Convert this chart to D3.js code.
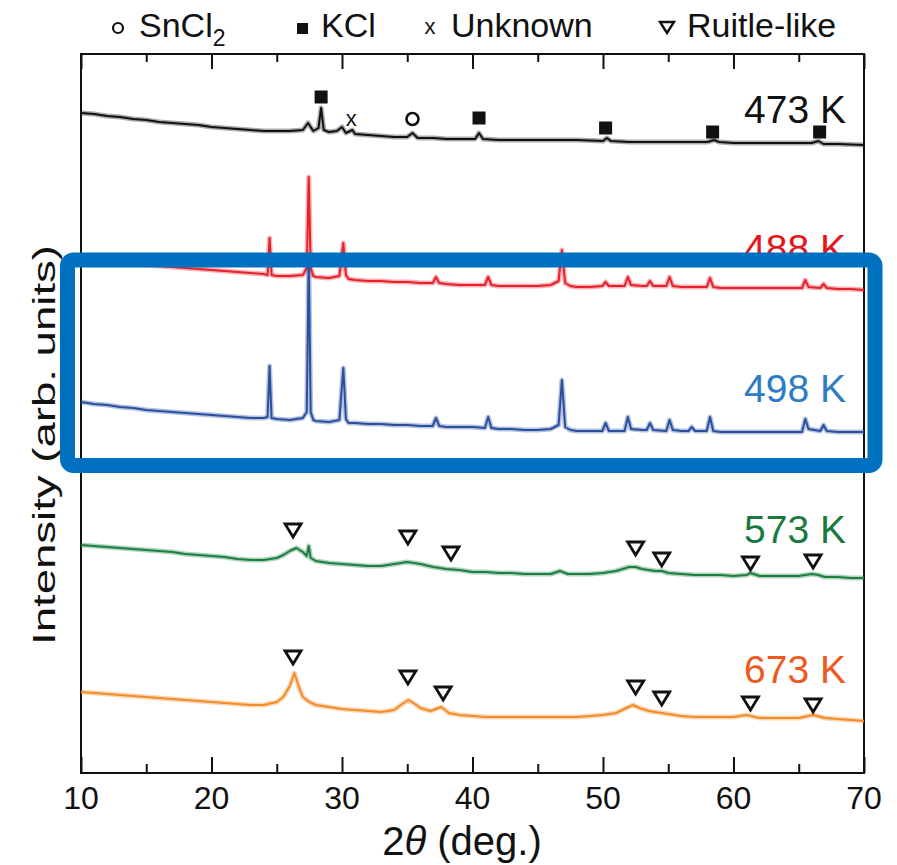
<!DOCTYPE html>
<html><head><meta charset="utf-8">
<script src="https://cdn.jsdelivr.net/npm/d3@7"></script>
<style>
html,body{margin:0;padding:0;background:#fff;}
text{font-family:"Liberation Sans",Arial,Helvetica,sans-serif;}
</style></head>
<body>
<svg id="chart" width="897" height="865"></svg>
<script>
// ---------- data (2θ in deg., intensity in arb. units incl. vertical offset) ----------
const xTicksMajor = [10, 20, 30, 40, 50, 60, 70];
const xTicksMinor = [15, 25, 35, 45, 55, 65];
const seriesNames = ["473 K", "488 K", "498 K", "573 K", "673 K"];

const s473 = [[10,660],[11,659],[12,657],[13,656],[14,654],[15,653],[16,651],[17,650],[18,649],[19,648],[20,646],[21,645],[22,644],[23,643],[24,642],[25,642],[26,642],[27,643],[27.4,650],[27.8,642],[28.2,645],[28.4,665],[28.6,643],[29,641],[29.6,642],[30.0,646],[30.3,640],[30.8,643],[31,639],[32,638],[33,637],[34,636],[35,636],[35.4,640],[35.8,635],[37,635],[38,634],[39,634],[40.2,634],[40.5,640],[40.8,634],[42,633],[44,633],[46,633],[48,633],[50,632],[50.3,635],[50.6,632],[52,631],[54,631],[56,631],[58,631],[58.5,633],[58.9,631],[60,630],[62,630],[64,630],[66,630],[66.5,632],[66.9,629],[68,629],[70,628]];

const s488 = [[10,513],[11,512],[12,511],[13,510],[14,509],[15,508],[16,507],[17,506],[18,505],[19,504],[20,503],[21,502],[22,501],[23,500],[24,499],[24.3,498],[24.45,535],[24.6,498],[25,497],[26,497],[27,498],[27.3,505],[27.45,596],[27.6,505],[27.8,497],[28,496],[29,495],[29.8,497],[30.1,530],[30.3,498],[30.5,494],[31,493],[32,492],[33,492],[34,491],[35,491],[36,490],[36.95,490],[37.2,496],[37.45,490],[38,489],[39,488],[40,488],[40.95,488],[41.2,496],[41.45,488],[42,487],[43,487],[44,487],[45,487],[46,488],[46.6,492],[46.85,523],[47.1,490],[47.5,487],[48,486],[49,486],[49.95,487],[50.2,491],[50.45,487],[51,487],[51.65,487],[51.9,496],[52.15,488],[53,487],[53.35,487],[53.6,492],[53.85,487],[54.85,487],[55.1,496],[55.35,487],[56,486],[57,486],[57.95,486],[58.2,495],[58.45,486],[59,485],[60,485],[62,485],[64,485],[65.25,485],[65.5,493],[65.75,486],[66.65,485],[66.9,489],[67.15,485],[68,484],[69,484],[70,483]];

const s498 = [[10,371],[11,369],[12,368],[13,366],[14,365],[15,363],[16,362],[17,361],[18,360],[19,359],[20,358],[21,357],[22,356],[23,355],[24,355],[24.3,356],[24.45,407],[24.6,355],[25,354],[26,353],[27,355],[27.3,361],[27.45,518],[27.6,361],[27.8,353],[28,352],[29,351],[29.8,353],[30.1,405],[30.3,354],[30.5,350],[31,350],[32,349],[33,349],[34,348],[35,348],[36,347],[36.95,347],[37.2,355],[37.45,347],[38,346],[39,346],[40,346],[40.95,345],[41.2,356],[41.45,345],[42,344],[43,344],[44,343],[45,343],[46,344],[46.6,348],[46.85,393],[47.1,346],[47.5,343],[48,342],[49,342],[49.95,342],[50.2,350],[50.45,342],[51,342],[51.65,342],[51.9,356],[52.15,344],[53,343],[53.35,343],[53.6,350],[53.85,343],[54.85,342],[55.1,353],[55.35,343],[56,342],[56.55,342],[56.8,346],[57.05,342],[57.95,342],[58.2,356],[58.45,342],[59,341],[60,341],[62,341],[64,341],[65.25,341],[65.5,354],[65.75,344],[66.65,342],[66.9,348],[67.15,342],[68,341],[69,341],[70,341]];

const s573 = [[10,228],[11,227],[12,226],[13,225],[14,224],[15,223],[16,222],[17,221],[18,219],[19,218],[20,217],[21,216],[22,214],[23,213],[24,213],[25,215],[25.5,218],[26,222],[26.5,225],[27,221],[27.3,217],[27.45,227],[27.6,215],[28,212],[29,210],[30,209],[31,208],[32,207],[33,207],[34,209],[35,211],[36,209],[37,206],[38,204],[39,203],[40,201],[41,201],[42,200],[43,200],[44,199],[45,199],[46,199],[46.7,202],[47.3,199],[48,199],[49,199],[50,200],[51,202],[52,206],[52.5,206],[53,204],[54,202],[54.5,202],[55,200],[56,199],[57,198],[58,198],[59,198],[60,197],[61,198],[61.3,200],[62,197],[63,197],[64,197],[65,197],[66,199],[66.5,198],[67,196],[68,196],[69,195],[70,195]];

const s673 = [[10,81],[11,80],[12,79],[13,78],[14,77],[15,76],[16,75],[17,74],[18,73],[19,72],[20,71],[21,70],[22,69],[23,68],[24,68],[25,71],[25.5,76],[26,87],[26.35,100],[26.7,86],[27,76],[27.5,71],[28,68],[29,66],[30,64],[31,63],[32,62],[33,61],[34,63],[34.6,69],[35.1,73],[35.6,69],[36,65],[36.8,62],[37.6,66],[38.2,60],[39,58],[40,57],[41,56],[42,56],[44,56],[46,56],[48,56],[49,57],[50,58],[51,60],[51.8,65],[52.3,68],[52.8,65],[53.5,62],[54.5,60],[55,59],[56,57],[57,56],[58,56],[59,56],[60,56],[61,58],[62,55],[63,55],[64,55],[65,55],[66.1,58],[67,55],[68,54],[69,53],[70,52]];

// phase markers: [2θ, vertical position]
const kclMarks = [[28.4,676],[40.5,655],[50.2,645],[58.4,641],[66.6,641]];
const unknownMarks = [[30.7,654]];
const sncl2Marks = [[35.4,654]];
const rutile573 = [[26.25,243],[35.05,236],[38.35,220],[52.5,225],[54.5,214],[61.3,210],[66.1,212]];
const rutile673 = [[26.25,116],[35.05,96],[37.75,80],[52.5,86],[54.5,75],[61.3,70],[66.1,68]];

// label positions (intensity units) and colours
const labelY = [650, 511, 371, 230, 90];
const lineColors = ["#111111", "#e8202a", "#2b4f9e", "#1d7f3e", "#f28c28"];
const labelColors = ["#111111", "#e8141c", "#2e7cc4", "#1a7a3e", "#ee5a1e"];

// ---------- drawing ----------
const svg = d3.select("#chart");
const L = 81, R = 864, T = 54, B = 773;
const x = d3.scaleLinear().domain([10, 70]).range([L, R]);
const y = d3.scaleLinear().domain([0, 719]).range([B, T]);

// frame
svg.append("rect").attr("x", L).attr("y", T).attr("width", R - L).attr("height", B - T)
  .attr("fill", "none").attr("stroke", "#111").attr("stroke-width", 2);

function drawAxis(gen, ty, size) {
  const g = svg.append("g").attr("transform", `translate(0,${ty})`).call(gen.tickSize(size).tickFormat(""));
  g.select(".domain").remove();
  g.selectAll(".tick line").attr("stroke", "#111").attr("stroke-width", 2);
  return g;
}
drawAxis(d3.axisBottom(x).tickValues(xTicksMajor), B, -16);
drawAxis(d3.axisBottom(x).tickValues(xTicksMinor), B, -9);
drawAxis(d3.axisTop(x).tickValues(xTicksMajor), T, -15);
drawAxis(d3.axisTop(x).tickValues(xTicksMinor), T, -8);

// tick labels
svg.append("g").selectAll("text").data(xTicksMajor).join("text")
  .attr("x", d => x(d)).attr("y", 809).attr("text-anchor", "middle")
  .attr("font-size", 32).attr("fill", "#111").text(d => d);

// axis titles
const xt = svg.append("text").attr("x", 462).attr("y", 855).attr("text-anchor", "middle")
  .attr("font-size", 40).attr("fill", "#111");
xt.append("tspan").text("2");
xt.append("tspan").attr("font-style", "italic").text("θ");
xt.append("tspan").text(" (deg.)");

svg.append("text").attr("transform", "translate(55,445) rotate(-90)")
  .attr("text-anchor", "middle").attr("font-size", 31).attr("fill", "#111")
  .attr("textLength", 400).attr("lengthAdjust", "spacingAndGlyphs")
  .text("Intensity (arb. units)");

// curves
const line = d3.line().x(d => x(d[0])).y(d => y(d[1]));
const allSeries = [s473, s488, s498, s573, s673];
allSeries.forEach((s, i) => {
  svg.append("path").datum(s).attr("d", line).attr("fill", "none")
    .attr("stroke", lineColors[i]).attr("stroke-width", 5).attr("stroke-opacity", 0.35)
    .attr("stroke-linejoin", "round");
  svg.append("path").datum(s).attr("d", line).attr("fill", "none")
    .attr("stroke", lineColors[i]).attr("stroke-width", 2)
    .attr("stroke-linejoin", "round");
});

// series labels
svg.append("g").selectAll("text").data(seriesNames).join("text")
  .attr("x", 846).attr("y", (d, i) => y(labelY[i])).attr("text-anchor", "end")
  .attr("font-size", 39).attr("fill", (d, i) => labelColors[i]).text(d => d);

// markers
const sq = 13;
svg.append("g").selectAll("rect").data(kclMarks).join("rect")
  .attr("x", d => x(d[0]) - sq / 2).attr("y", d => y(d[1]) - sq / 2)
  .attr("width", sq).attr("height", sq).attr("fill", "#111");
svg.append("g").selectAll("circle").data(sncl2Marks).join("circle")
  .attr("cx", d => x(d[0])).attr("cy", d => y(d[1])).attr("r", 6)
  .attr("fill", "#fff").attr("stroke", "#111").attr("stroke-width", 2.6);
svg.append("g").selectAll("text").data(unknownMarks).join("text")
  .attr("x", d => x(d[0])).attr("y", d => y(d[1]) + 7).attr("text-anchor", "middle")
  .attr("font-size", 22).attr("fill", "#111").text("x");
const tri = d => { const cx = x(d[0]), cy = y(d[1]); return `M${cx-8},${cy-6}L${cx+8},${cy-6}L${cx},${cy+7}Z`; };
svg.append("g").selectAll("path").data(rutile573.concat(rutile673)).join("path")
  .attr("d", tri).attr("fill", "#fff").attr("stroke", "#111").attr("stroke-width", 2.8)
  .attr("stroke-linejoin", "miter");

// legend (top)
const lg = svg.append("g");
lg.append("circle").attr("cx", 118).attr("cy", 28).attr("r", 5).attr("fill", "#fff").attr("stroke", "#111").attr("stroke-width", 2.2);
const t1 = lg.append("text").attr("x", 139).attr("y", 37).attr("font-size", 34).attr("fill", "#111");
t1.append("tspan").text("SnCl");
t1.append("tspan").attr("font-size", 23).attr("dy", 9).text("2");
lg.append("rect").attr("x", 297).attr("y", 23).attr("width", 11).attr("height", 11).attr("fill", "#111");
lg.append("text").attr("x", 321).attr("y", 37).attr("font-size", 34).attr("fill", "#111").text("KCl");
lg.append("text").attr("x", 430).attr("y", 34).attr("text-anchor", "middle").attr("font-size", 22).attr("fill", "#111").text("x");
lg.append("text").attr("x", 451).attr("y", 37).attr("font-size", 34).attr("fill", "#111").text("Unknown");
lg.append("path").attr("d", "M660,22L674,22L667,33Z").attr("fill", "#fff").attr("stroke", "#111").attr("stroke-width", 2.4);
lg.append("text").attr("x", 687).attr("y", 37).attr("font-size", 34).attr("fill", "#111").text("Ruitle-like");

// highlight box
svg.append("rect").attr("x", 67.5).attr("y", 260).attr("width", 875 - 67.5).attr("height", 465.5 - 260)
  .attr("rx", 6).attr("fill", "none").attr("stroke", "#0070c0").attr("stroke-width", 15);
</script>
</body></html>
